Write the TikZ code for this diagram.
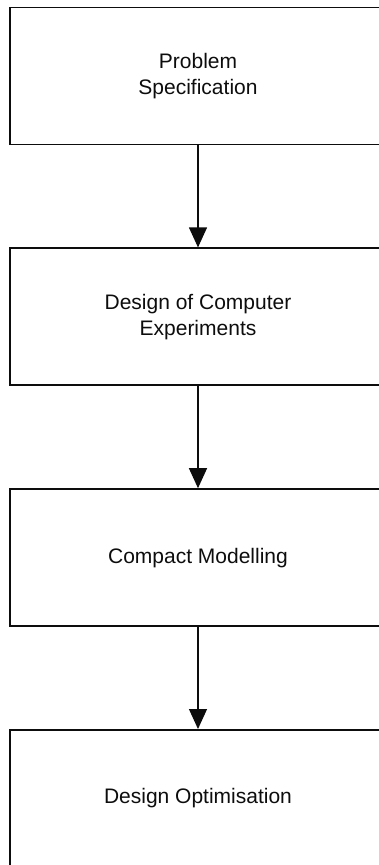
\documentclass[tikz,border=0pt]{standalone}
\usepackage{fontspec}
\setmainfont{Liberation Sans}
\usetikzlibrary{arrows.meta,positioning}
\definecolor{FlowInk}{gray}{0.05}
\tikzset{
    flow/diagram/.style={
        x=1pt, y=-1pt,
        font=\fontsize{21}{26}\selectfont,
        draw=FlowInk,
        text=FlowInk,
        line width=1.8pt,
        node distance=102pt
    },
    flow/stage/.style={
        draw=FlowInk, line width=1.8pt,
        rectangle, align=center,
        minimum width=376pt, minimum height=137pt,
        inner sep=0pt
    },
    flow/link/.style={
        draw=FlowInk, line width=1.2pt,
        -{Triangle[length=20pt, width=18pt]}
    }
}

\begin{document}
\begin{tikzpicture}[flow/diagram]
    \useasboundingbox (0,0) rectangle (379,865);
    % stages of the method, top to bottom
    \node[flow/stage] (spec) at (198,76) {Problem\\Specification};
    \node[flow/stage, below=of spec] (doe) {Design of Computer\\Experiments};
    \node[flow/stage, below=of doe] (model) {Compact Modelling};
    \node[flow/stage, below=of model] (optim) {Design Optimisation};
    \draw[flow/link] (spec) -- (doe);
    \draw[flow/link] (doe) -- (model);
    \draw[flow/link] (model) -- (optim);
\end{tikzpicture}
\end{document}
